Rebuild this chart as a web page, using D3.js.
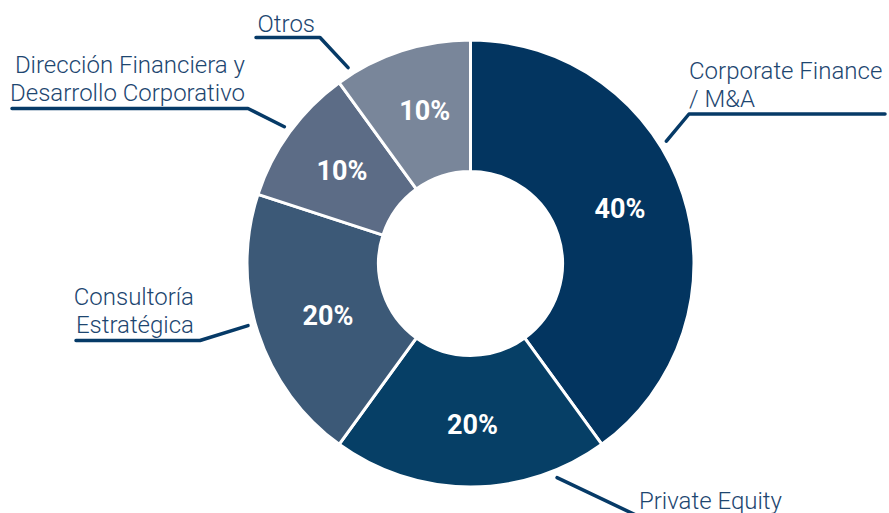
<!DOCTYPE html>
<html>
<head>
<meta charset="utf-8">
<script src="https://cdn.jsdelivr.net/npm/d3@7"></script>
<style>
  html, body { margin: 0; padding: 0; background: #ffffff; }
  svg { display: block; }
</style>
</head>
<body>
<svg id="chart" width="889" height="513"></svg>
<script>
// ---- Data ----
const categories = ["Corporate Finance / M&A", "Private Equity", "Consultoría Estratégica", "Dirección Financiera y Desarrollo Corporativo", "Otros"];
const values = [40, 20, 20, 10, 10];
const labelLines = [
  ["Corporate Finance", "/ M&A"],
  ["Private Equity"],
  ["Consultoría", "Estratégica"],
  ["Dirección Financiera y", "Desarrollo Corporativo"],
  ["Otros"]
];
const colors = ["#033560", "#063f66", "#3c5977", "#5c6c86", "#79869a"];

// ---- Layout (styling only) ----
const W = 889, H = 513;
const cx = 470.5, cy = 263.5, R = 223.5, r0 = 92;
// small nudges of the percentage labels away from the exact centroid
const pctNudge = [[-0.5, -6], [2, 3], [7.5, 3], [-1, -0.5], [3, -3]];
// leader: angle offset (deg) from slice mid, elbow point, end x, text anchor, text x, first baseline
const leaders = [
  { dAng: -14, elbow: [689, 114], endX: 885, anchor: "start", tx: 689, ty: 79 },
  { dAng: -22, elbow: [640, 517], endX: 800, anchor: "start", tx: 639, ty: 509 },
  { dAng: 2.4, elbow: [200, 340.5], endX: 76, anchor: "end", tx: 194, ty: 305 },
  { dAng: 0.3, elbow: [248, 108.5], endX: 12, anchor: "end", tx: 245, ty: 73 },
  { dAng: -14, elbow: [320, 37.5], endX: 256, anchor: "end", tx: 315, ty: 32 }
];

const svg = d3.select("#chart");
const g = svg.append("g").attr("transform", `translate(${cx},${cy})`);

const pie = d3.pie().value(d => d).sort(null);
const arcs = pie(values);
const arc = d3.arc().innerRadius(r0).outerRadius(R);
const labelArc = d3.arc().innerRadius((r0 + R) / 2).outerRadius((r0 + R) / 2);

g.selectAll("path.slice")
  .data(arcs)
  .join("path")
  .attr("class", "slice")
  .attr("d", arc)
  .attr("fill", (d, i) => colors[i])
  .attr("stroke", "#ffffff")
  .attr("stroke-width", 3)
  .attr("stroke-linejoin", "round");

g.selectAll("text.pct")
  .data(arcs)
  .join("text")
  .attr("class", "pct")
  .attr("transform", (d, i) => {
    const c = labelArc.centroid(d);
    return `translate(${c[0] + pctNudge[i][0]},${c[1] + pctNudge[i][1]})`;
  })
  .attr("text-anchor", "middle")
  .attr("dy", "0.355em")
  .attr("font-family", "Roboto, 'Open Sans', sans-serif")
  .attr("font-weight", 700)
  .attr("font-size", 27)
  .attr("fill", "#ffffff")
  .text(d => d.data + "%");

// Leader lines and labels
const lineGen = d3.line();
const rLead = 231;
arcs.forEach((d, i) => {
  const L = leaders[i];
  const mid = (d.startAngle + d.endAngle) / 2 + L.dAng * Math.PI / 180;
  const p0 = [cx + rLead * Math.sin(mid), cy - rLead * Math.cos(mid)];
  const pts = [p0, L.elbow, [L.endX, L.elbow[1]]];
  svg.append("path")
    .attr("d", lineGen(pts))
    .attr("fill", "none")
    .attr("stroke", "#063a67")
    .attr("stroke-width", 3.5)
    .attr("stroke-linecap", "round")
    .attr("stroke-linejoin", "round");

  const t = svg.append("text")
    .attr("x", L.tx)
    .attr("y", L.ty)
    .attr("text-anchor", L.anchor)
    .attr("font-family", "Roboto, 'Open Sans', sans-serif")
    .attr("font-weight", 300)
    .attr("font-size", 24)
    .attr("fill", "#1d4670");
  labelLines[i].forEach((line, k) => {
    t.append("tspan").attr("x", L.tx).attr("y", L.ty + k * 27.5).text(line);
  });
});
</script>
</body>
</html>
